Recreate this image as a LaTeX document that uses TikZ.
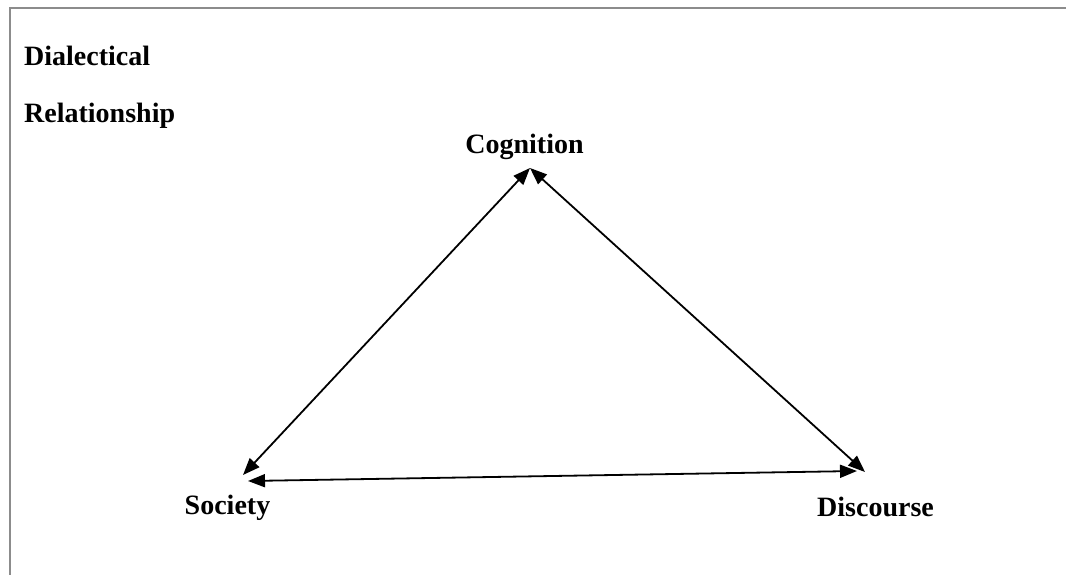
\documentclass[tikz,border=0pt]{standalone}
\usepackage{fontspec}
\setmainfont{Liberation Serif}
\usetikzlibrary{arrows.meta}
\begin{document}
\begin{tikzpicture}[x=1pt,y=-1pt,
  lbl/.style={font=\fontsize{28}{30}\selectfont\bfseries, inner sep=0pt},
  link/.style={line width=1.8pt, {Triangle[length=17pt,width=13pt]}-{Triangle[length=17pt,width=13pt]}},
  frame/.style={draw=black!45, line width=2pt}]
\useasboundingbox (0,0) rectangle (1066,575);
\draw[frame] (10,575) -- (10,8.5) -- (1066,8.5);
\node[lbl, anchor=west] (dia) at (24,56) {Dialectical};
\node[lbl, anchor=west] (rel) at (24,116) {Relationship};
\node[lbl] (cog) at (524.5,147) {Cognition};
\node[lbl] (soc) at (227.5,508) {Society};
\node[lbl] (dis) at (875.5,507) {Discourse};
\coordinate (top) at (530,168);
\coordinate (sl) at (243,475);
\coordinate (dr) at (865,472);
\coordinate (sb) at (248,481);
\coordinate (db) at (857,471);
\draw[link] (top) -- (sl);
\draw[link] (top) -- (dr);
\draw[link] (sb) -- (db);
\end{tikzpicture}
\end{document}
